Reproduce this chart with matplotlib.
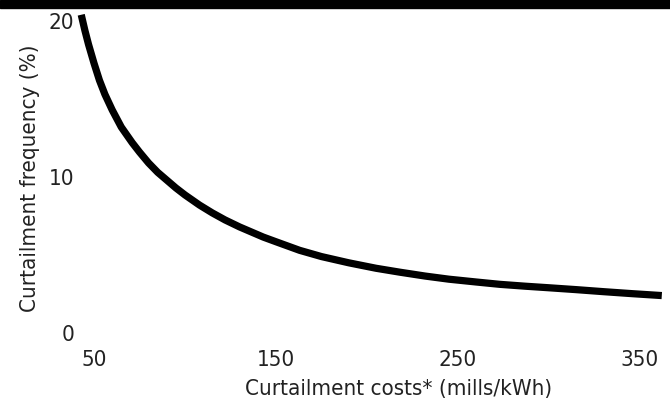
import matplotlib
matplotlib.use('Agg')
import matplotlib.pyplot as plt
from matplotlib.patches import Rectangle

# values
cost = [43, 45, 47, 50, 53, 56, 60, 65, 71, 75, 80, 85, 90, 95, 100, 108, 115, 122,
        130, 136, 143, 150, 163, 175, 190, 205, 218, 232, 245, 260, 273, 287, 300,
        315, 330, 346, 362]
freq = [20.4, 19.4, 18.5, 17.3, 16.2, 15.3, 14.3, 13.2, 12.2, 11.6, 10.9, 10.3, 9.8,
        9.3, 8.85, 8.2, 7.7, 7.25, 6.8, 6.5, 6.15, 5.85, 5.3, 4.9, 4.5, 4.15, 3.9,
        3.65, 3.45, 3.27, 3.12, 3.0, 2.9, 2.78, 2.65, 2.52, 2.4]

x_ticks = [50, 150, 250, 350]
y_ticks = [0, 10, 20]

plt.rcParams['font.family'] = 'DejaVu Sans'
plt.rcParams['font.stretch'] = 'condensed'

fig = plt.figure(figsize=(6.7, 4.07), dpi=100)
ax = fig.add_axes([0.1131, 0.1818, 0.8828, 0.7666])

ax.plot(cost, freq, color='black', linewidth=5.2, solid_capstyle='butt',
        solid_joinstyle='round', clip_on=False)

ax.set_xlim(40, 365)
ax.set_ylim(0, 20)
ax.set_xticks(x_ticks)
ax.set_yticks(y_ticks)
ax.tick_params(length=0, labelsize=16, colors='#222222')
ax.tick_params(axis='x', pad=12)
ax.tick_params(axis='y', pad=1)
for s in ax.spines.values():
    s.set_visible(False)

ax.set_xlabel('Curtailment costs* (mills/kWh)', fontsize=16, color='#222222')
ax.xaxis.set_label_coords(0.545, -0.178)
ax.xaxis.label.set_va('center')
ax.set_ylabel('Curtailment frequency (%)', fontsize=16, color='#222222')
ax.yaxis.set_label_coords(-0.0774, 0.497)
ax.yaxis.label.set_va('center')

# black band along the top edge
fig.patches.append(Rectangle((0, 0.981), 1, 0.019, transform=fig.transFigure,
                             color='black', zorder=0))

fig.savefig('out.png', dpi=100)
